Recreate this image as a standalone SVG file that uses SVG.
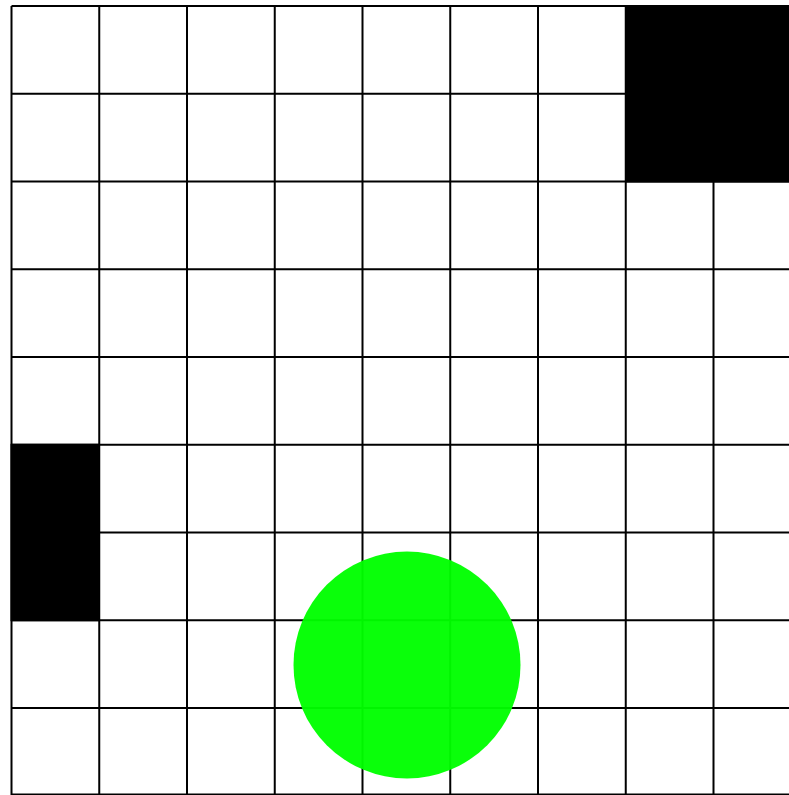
<svg xmlns="http://www.w3.org/2000/svg" width="789" height="795" viewBox="0 0 789 795">
<style>
.g{stroke:#000;stroke-width:2;fill:none}
.blk{fill:#000}
</style>
<rect width="789" height="795" fill="#fff"/>
<g id="grid" class="g">
<path d="M11.5 6V796 M99.25 6V796 M187 6V796 M274.75 6V796 M362.5 6V796 M450.25 6V796 M538 6V796 M625.75 6V796 M713.5 6V796"/>
<path d="M11.5 6H789 M11.5 93.75H789 M11.5 181.5H789 M11.5 269.25H789 M11.5 357H789 M11.5 444.75H789 M11.5 532.5H789 M11.5 620.25H789 M11.5 708H789 M11.5 794.5H789"/>
</g>
<g id="obstacles">
<rect class="blk" x="625" y="5" width="170" height="177.5"/>
<rect class="blk" x="10.5" y="443.75" width="89.5" height="177.5"/>
</g>
<g id="agent">
<circle cx="407" cy="665" r="113.5" fill="#00ff00" fill-opacity="0.96"/>
</g>
</svg>
